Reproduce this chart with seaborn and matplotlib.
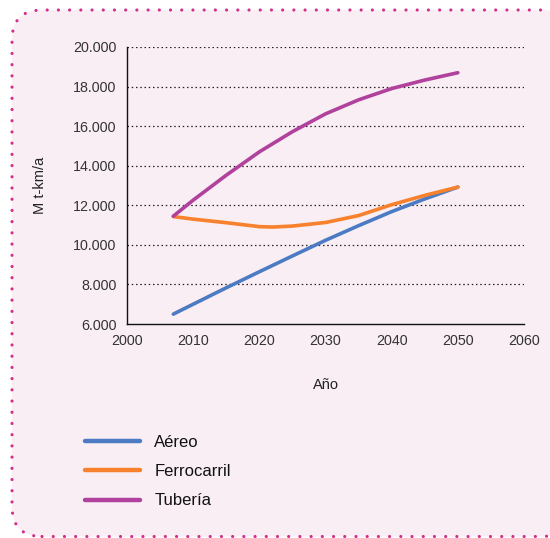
import matplotlib
matplotlib.use("Agg")
import matplotlib.pyplot as plt
import seaborn as sns
import pandas as pd
from matplotlib.patches import FancyBboxPatch
from matplotlib.transforms import IdentityTransform
from matplotlib.ticker import FuncFormatter

# ---- data ----
series_names = ["Aéreo", "Ferrocarril", "Tubería"]
years_aereo = [2007, 2010, 2015, 2020, 2025, 2030, 2035, 2040, 2045, 2050]
vals_aereo = [6500, 7000, 7830, 8640, 9440, 10230, 10970, 11680, 12320, 12920]
years_ferro = [2007, 2010, 2015, 2017, 2020, 2022, 2025, 2030, 2035, 2040, 2045, 2050]
vals_ferro = [11430, 11300, 11120, 11040, 10920, 10900, 10950, 11130, 11480, 12030, 12500, 12920]
years_tub = [2007, 2010, 2015, 2020, 2025, 2030, 2035, 2040, 2045, 2050]
vals_tub = [11450, 12260, 13520, 14700, 15720, 16620, 17330, 17900, 18330, 18700]
colors = ["#4c7bc4", "#f7812c", "#b0419c"]
x_ticks = [2000, 2010, 2020, 2030, 2040, 2050, 2060]
y_ticks = [6000, 8000, 10000, 12000, 14000, 16000, 18000, 20000]
x_label = "Año"
y_label = "M t-km/a"

df = pd.concat([
    pd.DataFrame({"Año": years_aereo, "valor": vals_aereo, "modo": series_names[0]}),
    pd.DataFrame({"Año": years_ferro, "valor": vals_ferro, "modo": series_names[1]}),
    pd.DataFrame({"Año": years_tub, "valor": vals_tub, "modo": series_names[2]}),
], ignore_index=True)

sns.set_style("white")
plt.rcParams["font.family"] = ["Liberation Sans", "DejaVu Sans"]

W, H = 550, 538
fig = plt.figure(figsize=(W / 100, H / 100), dpi=100)
fig.patch.set_facecolor("white")

bg = "#f9eef4"
# rounded dotted frame (pixel coordinates)
frame = FancyBboxPatch((12, 1.5), 560, 526.5,
                       boxstyle="round,pad=0,rounding_size=30",
                       transform=IdentityTransform(), facecolor=bg,
                       edgecolor="#d0308c", linewidth=2.3,
                       linestyle=(0, (0.01, 3.5)), capstyle="round",
                       zorder=-10)
fig.patches.append(frame)

ax = fig.add_axes([127 / W, 1 - 324 / H, (524 - 127) / W, (324 - 47) / H])
ax.set_facecolor("none")
ax.set_zorder(5)

sns.lineplot(data=df, x="Año", y="valor", hue="modo", palette=colors,
             hue_order=series_names, estimator=None, sort=True,
             linewidth=2.6, ax=ax, legend=True)
for ln in ax.get_lines():
    ln.set_solid_joinstyle("round")

ax.set_xlim(2000, 2060)
ax.set_ylim(6000, 20000)
ax.set_xticks(x_ticks)
ax.set_yticks(y_ticks)
ax.yaxis.set_major_formatter(FuncFormatter(lambda v, p: f"{v:,.0f}".replace(",", ".")))
for yv in y_ticks[1:]:
    ax.axhline(yv, color="#222222", linewidth=0.9, linestyle=(0, (1.2, 2.2)), zorder=0.5)

for s in ["top", "right"]:
    ax.spines[s].set_visible(False)
for s in ["left", "bottom"]:
    ax.spines[s].set_color("#111111")
    ax.spines[s].set_linewidth(1.0)
ax.tick_params(axis="both", direction="out", length=5, width=1.0, color="#111111",
               labelsize=10.3, labelcolor="#333333", pad=2.5)
ax.set_xlabel("")
ax.set_ylabel("")

fig.text(326 / W, 1 - 385 / H, x_label, ha="center", va="center", fontsize=10.5, color="#222222")
fig.text(40 / W, 1 - 185 / H, y_label, ha="center", va="center", rotation=90,
         fontsize=10.5, color="#222222")

handles, labels = ax.get_legend_handles_labels()
if ax.get_legend() is not None:
    ax.get_legend().remove()
leg = fig.legend(handles, labels, loc="upper left", bbox_to_anchor=(85 / W, 1 - 435 / H),
                 frameon=False, fontsize=12, handlelength=3.3, handletextpad=0.85,
                 labelspacing=0.85, borderpad=0, borderaxespad=0)
for t in leg.get_texts():
    t.set_color("#111111")
for l in leg.get_lines():
    l.set_linewidth(3.2)

fig.savefig("out.png", dpi=100, facecolor="white")
